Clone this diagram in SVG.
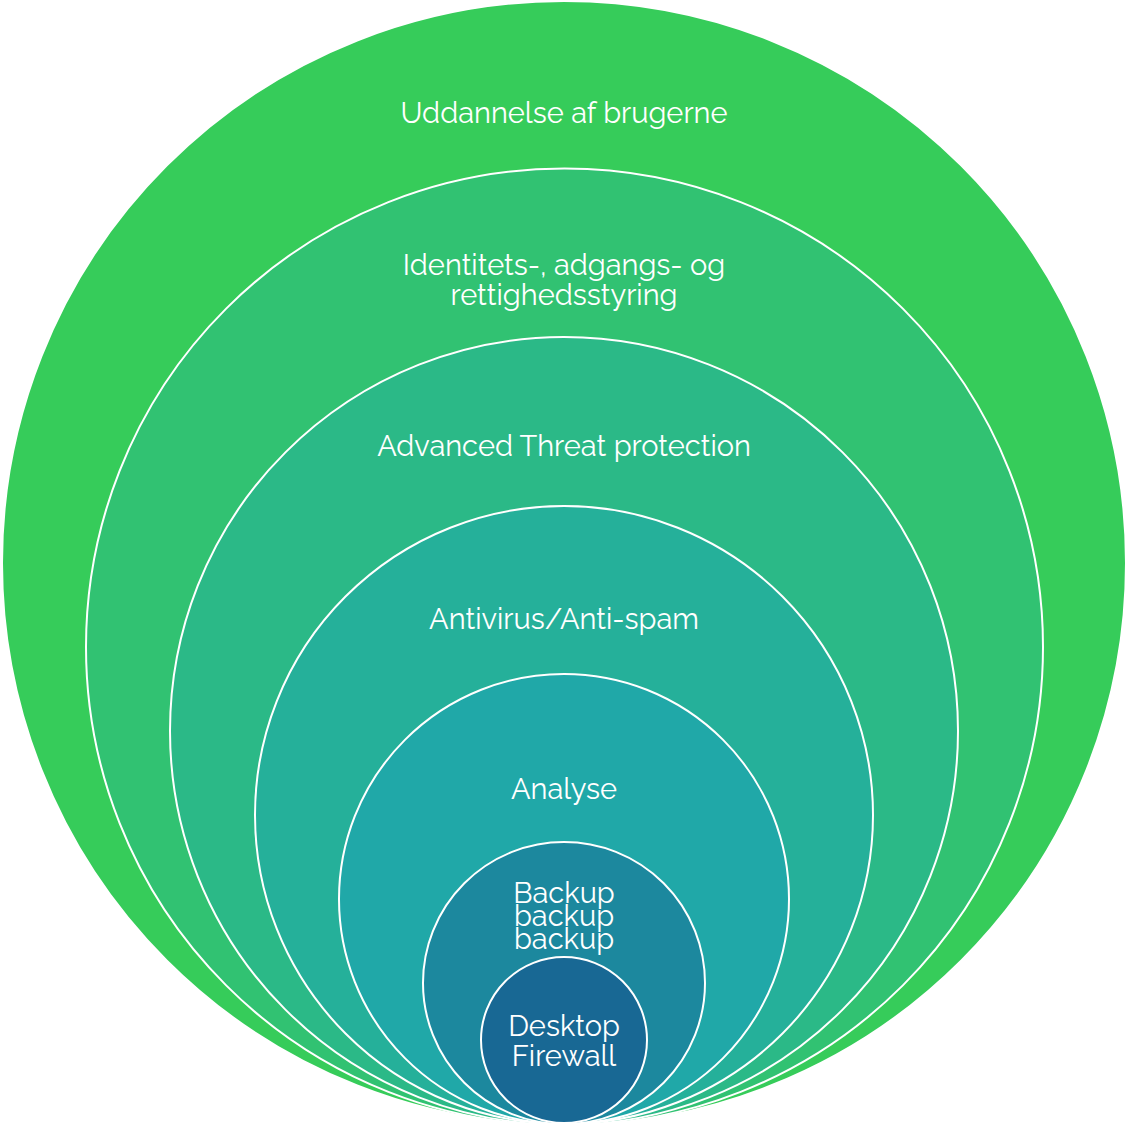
<svg xmlns="http://www.w3.org/2000/svg" width="1127" height="1127" viewBox="0 0 1127 1127">
<style>
.c{stroke:#ffffff;stroke-width:2}
.t{font-family:Raleway,"Open Sans","Liberation Sans",sans-serif;font-size:29px;fill:#ffffff;text-anchor:middle}
</style>
<rect width="1127" height="1127" fill="#ffffff"/>
<g id="n1"><circle class="c" cx="564" cy="563" r="562" fill="#36CC5A"/><text class="t" x="564" y="123">Uddannelse af brugerne</text></g>
<g id="n2"><circle class="c" cx="564.5" cy="647" r="478.5" fill="#31C272"/><text class="t" x="564" y="275">Identitets-, adgangs- og</text><text class="t" x="564" y="305">rettighedsstyring</text></g>
<g id="n3"><circle class="c" cx="564" cy="731" r="394" fill="#2BB987"/><text class="t" x="564" y="456">Advanced Threat protection</text></g>
<g id="n4"><circle class="c" cx="564" cy="815" r="309" fill="#25B09A"/><text class="t" x="564" y="629">Antivirus/Anti-spam</text></g>
<g id="n5"><circle class="c" cx="564" cy="899" r="225" fill="#20A8A8"/><text class="t" x="564" y="799">Analyse</text></g>
<g id="n6"><circle class="c" cx="564" cy="983" r="141" fill="#1C889E"/><text class="t" x="564" y="903">Backup</text><text class="t" x="564" y="926">backup</text><text class="t" x="564" y="949">backup</text></g>
<g id="n7"><circle class="c" cx="564" cy="1040" r="83" fill="#186894"/><text class="t" x="564" y="1036">Desktop</text><text class="t" x="564" y="1066">Firewall</text></g>
<g id="connectors"/>
</svg>
